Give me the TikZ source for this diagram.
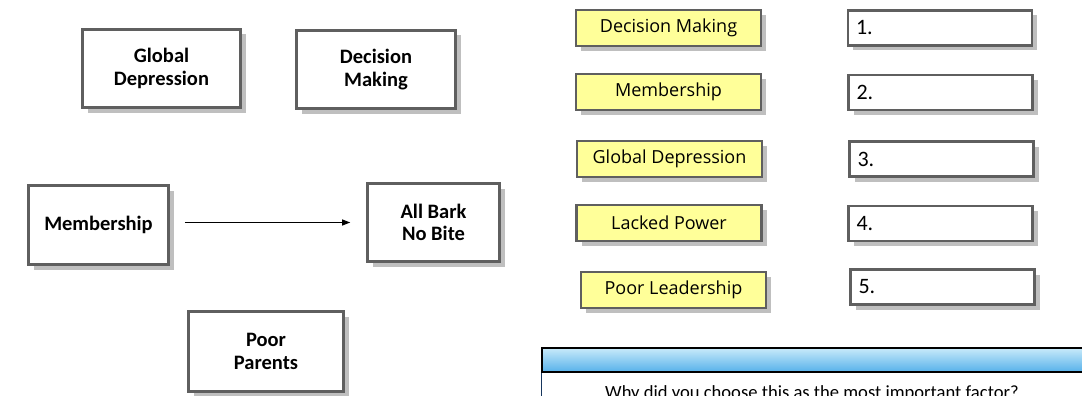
\documentclass[tikz,border=0pt]{standalone}
\usepackage{fontspec}
\setmainfont{Carlito}
\newfontfamily\cardfont{Open Sans}
\usetikzlibrary{arrows.meta,positioning,shadows}

\definecolor{boxedge}{HTML}{5F5F5F}
\definecolor{boxshade}{HTML}{BFBFBF}
\definecolor{cardyellow}{HTML}{FFFF99}
\definecolor{barlight}{HTML}{C8EAFA}
\definecolor{bardark}{HTML}{56B1EA}
\definecolor{navyedge}{HTML}{17365D}

\begin{document}
\begin{tikzpicture}[x=1pt, y=-1pt,
    shadowed/.style={draw=boxedge, drop shadow={shadow xshift=5pt, shadow yshift=-5pt, fill=boxshade, opacity=1}},
    factor/.style={shadowed, line width=2.6pt, fill=white, align=center, inner sep=0pt,
      font=\bfseries\fontsize{20.5}{22.5}\selectfont},
    card/.style={shadowed, line width=2.2pt, fill=cardyellow, minimum width=185pt, minimum height=36pt,
      inner sep=0pt, font=\cardfont\fontsize{18}{20}\selectfont},
    slot/.style={shadowed, line width=2.2pt, fill=white, minimum height=35pt, inner xsep=8pt, inner ysep=0pt,
      text width=168pt, align=left, font=\fontsize{22}{24}\selectfont}]
    \useasboundingbox (0,0) rectangle (1082,396);
    \clip (0,0) rectangle (1082,396);

    % Factor boxes - left side
    \node[factor, minimum width=158pt, minimum height=78pt] (gd) at (161.5,68.5) {Global\\Depression};
    \node[factor, minimum width=159pt, minimum height=78pt] (dm) at (376,69.5) {Decision\\Making};
    \node[factor, minimum width=140pt, minimum height=79pt] (mem) at (98.5,225) {Membership};
    \node[factor, minimum width=132pt, minimum height=78pt] (abnb) at (433.5,222.5) {All Bark\\No Bite};
    \node[factor, minimum width=155pt, minimum height=80pt] (pp) at (266,351.5) {Poor\\Parents};
    \draw[-{Triangle[length=8pt,width=6pt]}, line width=1pt, shorten <=15pt, shorten >=16pt]
      (mem.east |- abnb.west) -- (abnb.west);

    % Ranked factors - right side
    \node[card] (c1) at (668.5,28) {Decision Making};
    \node[card] (c2) at (668.5,92) {Membership};
    \node[card] (c3) at (669.5,159) {Global Depression};
    \node[card] (c4) at (669,223) {Lacked Power};
    \node[card] (c5) at (673.5,290) {Poor Leadership};

    \node[slot] (s1) at (940,28) {1.};
    \node[slot] (s2) at (940.5,92.5) {2.};
    \node[slot] (s3) at (941.5,159) {3.};
    \node[slot] (s4) at (940.5,223.5) {4.};
    \node[slot] (s5) at (942.5,287) {5.};

    % Question panel
    \node[draw=black, line width=1.5pt, top color=barlight, bottom color=bardark,
      minimum width=552pt, minimum height=24pt, inner sep=0pt] (qhead) at (818,360) {};
    \draw[navyedge, line width=1.5pt] (qhead.south west) -- ++(0,30);
    \node[anchor=base, font=\fontsize{18.6}{20}\selectfont] (why) at (812,398)
      {Why did you choose this as the most important factor?};
\end{tikzpicture}
\end{document}
